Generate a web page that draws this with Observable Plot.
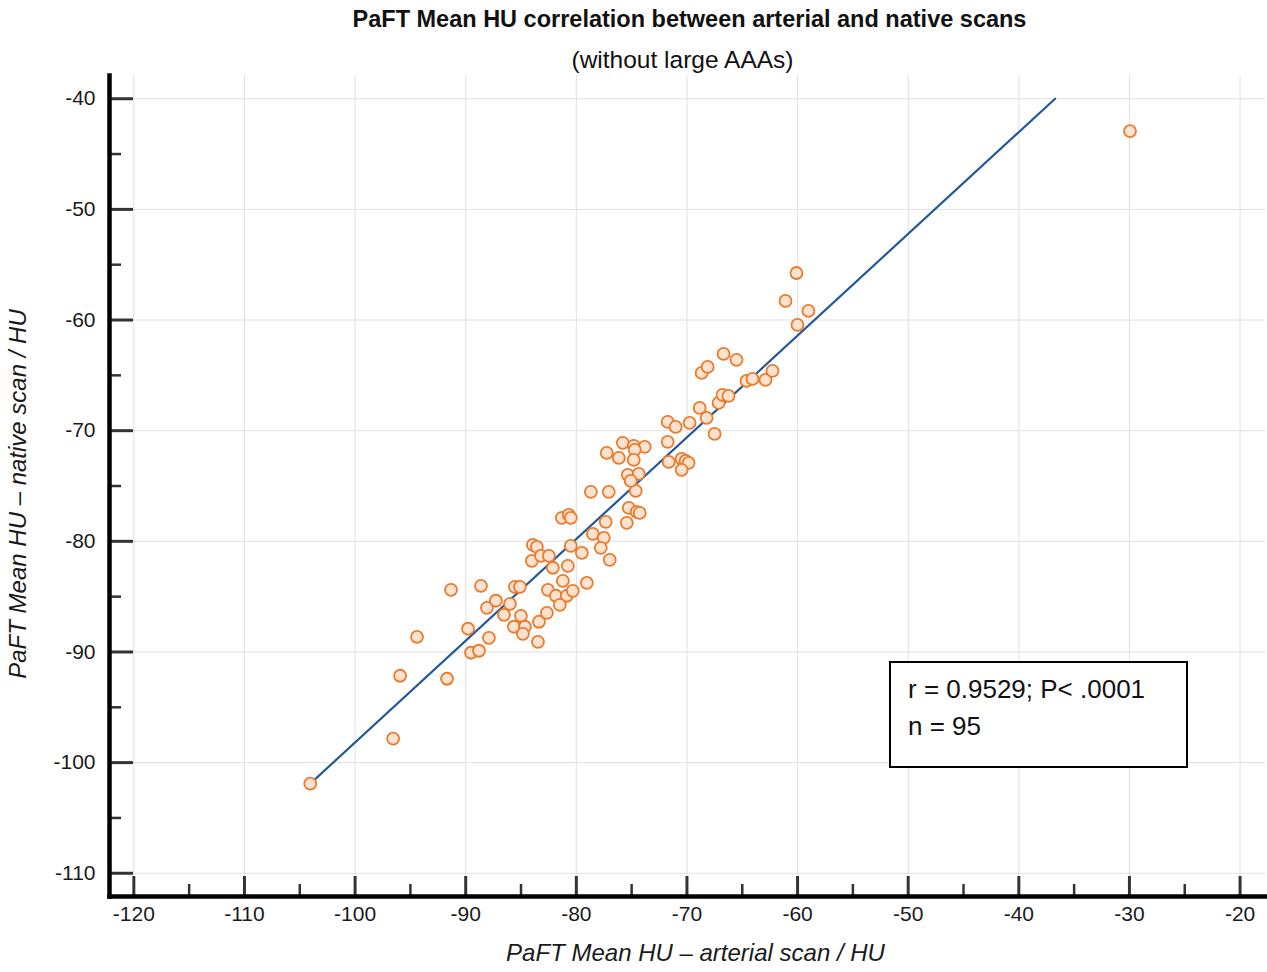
<!DOCTYPE html>
<html>
<head>
<meta charset="utf-8">
<script src="https://cdn.jsdelivr.net/npm/d3@7"></script>
<script src="https://cdn.jsdelivr.net/npm/@observablehq/plot@0.6"></script>
<style>
  body { margin: 0; background: #fff; }
  #wrap { position: relative; width: 1267px; height: 972px; font-family: "Liberation Sans", Arial, sans-serif; }
  #stats { position: absolute; left: 889px; top: 661px; width: 278px; height: 95px; border: 2px solid #000; background: #fff;
           font-size: 26px; line-height: 37px; padding: 8px 0 0 17px; color: #111; white-space: nowrap; }
</style>
</head>
<body>
<div id="wrap"><div id="stats">r = 0.9529; P&lt; .0001<br>n = 95</div></div>
<script>
// PaFT mean HU on arterial scan (x) and native scan (y)
const arterialHU = [
  -104.05, -96.56, -95.93, -91.69, -94.40, -91.33, -88.62, -89.79, -89.52, -88.80,
  -87.90, -88.08, -87.27, -86.00, -85.55, -86.54, -85.01, -85.64, -84.65, -84.83,
  -83.47, -83.38, -82.66, -82.57, -81.85, -81.22, -80.86, -81.49, -80.32, -79.05,
  -80.77, -82.12, -85.10, -84.02, -83.93, -83.57, -83.20, -82.48, -81.31, -80.68,
  -80.50, -78.51, -77.52, -77.79, -76.98, -80.50, -79.50, -78.69, -77.07, -74.63,
  -75.26, -74.54, -74.27, -75.44, -77.34, -77.25, -76.16, -75.80, -74.81, -73.82,
  -74.72, -74.81, -75.35, -74.36, -75.08, -71.74, -71.74, -71.02, -69.76, -68.22,
  -67.50, -71.65, -70.48, -70.12, -69.85, -70.48, -68.85, -67.14, -66.78, -66.24,
  -68.67, -68.13, -66.69, -65.52, -64.61, -64.07, -62.90, -62.27, -61.09, -60.10,
  -59.02, -60.01, -29.95
];
const nativeHU = [
  -101.90, -97.84, -92.15, -92.42, -88.63, -84.38, -84.02, -87.90, -90.07, -89.89,
  -88.72, -86.01, -85.37, -85.65, -84.11, -86.64, -86.73, -87.72, -87.72, -88.36,
  -89.08, -87.27, -86.46, -84.38, -84.92, -83.57, -84.92, -85.74, -84.47, -83.75,
  -82.21, -82.39, -84.11, -81.76, -80.32, -80.50, -81.31, -81.31, -77.88, -77.61,
  -77.88, -79.32, -79.68, -80.59, -81.67, -80.41, -81.04, -75.53, -75.53, -75.44,
  -76.97, -77.33, -77.43, -78.33, -78.24, -72.01, -72.46, -71.10, -71.37, -71.46,
  -71.73, -72.64, -73.99, -73.90, -74.54, -71.01, -69.21, -69.66, -69.30, -68.84,
  -70.29, -72.82, -72.55, -72.73, -72.91, -73.54, -67.94, -67.49, -66.77, -66.86,
  -64.78, -64.24, -63.06, -63.60, -65.50, -65.32, -65.41, -64.60, -58.27, -55.75,
  -59.18, -60.44, -42.92
];
// regression line end points
const fitX = [-104.05, -36.72];
const fitY = [-101.90, -40.0];
// axis ticks
const xMajor = [-120, -110, -100, -90, -80, -70, -60, -50, -40, -30, -20];
const xMinor = [-115, -105, -95, -85, -75, -65, -55, -45, -35, -25];
const yMajor = [-110, -100, -90, -80, -70, -60, -50, -40];
const yMinor = [-105, -95, -85, -75, -65, -55, -45];

const titleText = "PaFT Mean HU correlation between arterial and native scans";
const subtitleText = "(without large AAAs)";
const xLabelText = "PaFT Mean HU \u2013 arterial scan / HU";
const yLabelText = "PaFT Mean HU \u2013 native scan / HU";

const points = arterialHU.map((a, i) => ({arterial: a, native: nativeHU[i]}));
const fit = fitX.map((x, i) => ({x, y: fitY[i]}));

const W = 1267, H = 972, mt = 75, mb = 76, ml = 109, mr = 2;
const plotW = W - ml - mr, plotH = H - mt - mb;
const font = "'Liberation Sans', Arial, sans-serif";

const chart = Plot.plot({
  width: W, height: H,
  marginTop: mt, marginBottom: mb, marginLeft: ml, marginRight: mr,
  x: {domain: [-122.2, -17.7], label: null},
  y: {domain: [-112.1, -37.9], label: null},
  style: {fontFamily: font, fontSize: "21px", color: "#1a1a1a", background: "white", overflow: "visible"},
  marks: [
    Plot.gridX(xMajor, {stroke: "#e0e0e0", strokeOpacity: 1, strokeWidth: 1}),
    Plot.gridY(yMajor, {stroke: "#e0e0e0", strokeOpacity: 1, strokeWidth: 1}),
    Plot.line(fit, {x: "x", y: "y", stroke: "#23599a", strokeWidth: 2.2}),
    Plot.dot(points, {x: "arterial", y: "native", r: 6, stroke: "#ec7a2c", strokeWidth: 1.8, fill: "#fde3cf", fillOpacity: 1}),
    Plot.ruleX(xMajor, {x: d => d, insetTop: plotH - 20, stroke: "#333", strokeWidth: 3}),
    Plot.ruleX(xMinor, {x: d => d, insetTop: plotH - 12, stroke: "#333", strokeWidth: 2.5}),
    Plot.ruleY(yMajor, {y: d => d, insetRight: plotW - 24, stroke: "#333", strokeWidth: 3}),
    Plot.ruleY(yMinor, {y: d => d, insetRight: plotW - 12, stroke: "#333", strokeWidth: 2.5}),
    Plot.frame({anchor: "left", stroke: "#000", strokeWidth: 4.5}),
    Plot.frame({anchor: "bottom", stroke: "#000", strokeWidth: 4.5}),
    Plot.axisX(xMajor, {tickSize: 0, tickPadding: 10, fontSize: 21, tickFormat: d => String(d), label: null}),
    Plot.axisY(yMajor, {tickSize: 0, tickPadding: 14, fontSize: 21, tickFormat: d => String(d), label: null}),
    Plot.text([xLabelText], {text: d => d, frameAnchor: "bottom", lineAnchor: "middle", dx: 8, dy: 57, fontStyle: "italic", fontSize: 24, fill: "#1a1a1a"}),
    Plot.text([yLabelText], {text: d => d, frameAnchor: "left", textAnchor: "middle", lineAnchor: "middle", rotate: -90, dx: -91, dy: 8, fontStyle: "italic", fontSize: 24, fill: "#1a1a1a"}),
    Plot.text([titleText], {text: d => d, frameAnchor: "top", lineAnchor: "middle", dx: 2, dy: -56, fontWeight: "bold", fontSize: 23.5, fill: "#111"}),
    Plot.text([subtitleText], {text: d => d, frameAnchor: "top", lineAnchor: "middle", dx: -5, dy: -15, fontSize: 24.5, fill: "#111"})
  ]
});
document.getElementById("wrap").prepend(chart);
</script>
</body>
</html>
